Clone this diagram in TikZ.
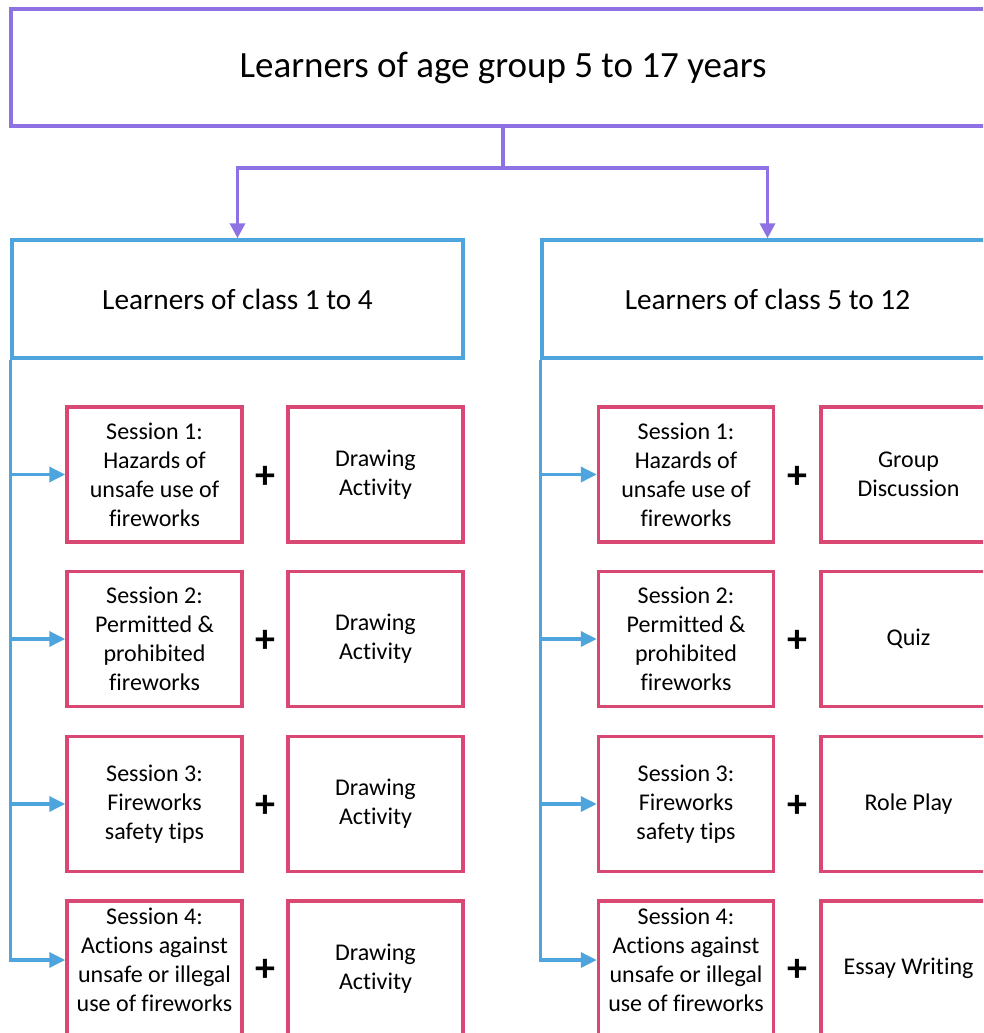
\documentclass[tikz,border=0pt]{standalone}
\usepackage{fontspec}
\setmainfont{Carlito}[Ligatures={NoCommon}]
\usetikzlibrary{arrows.meta}
\definecolor{purp}{HTML}{8E71E3}
\definecolor{lblue}{HTML}{4EA5DE}
\definecolor{pinkc}{HTML}{D84873}
\begin{document}
\begin{tikzpicture}[x=1pt,y=-1pt,
  topbox/.style={draw=purp, line width=3.5pt, minimum width=984pt, minimum height=117pt, inner sep=0pt, font=\fontsize{37}{44}\selectfont},
  classbox/.style={draw=lblue, line width=3.5pt, minimum width=451pt, minimum height=118pt, inner sep=0pt, font=\fontsize{29.3}{35}\selectfont},
  sbox/.style={draw=pinkc, line width=3.5pt, minimum width=175pt, minimum height=135pt, inner sep=0pt, align=center, font=\fontsize{24}{29}\selectfont},
  txt/.style={align=center, inner sep=0pt, font=\fontsize{24}{29}\selectfont},
  plussign/.style={inner sep=0pt, font=\fontsize{40}{40}\selectfont\bfseries},
  parrow/.style={draw=purp, line width=3.5pt, -{Triangle[length=15pt,width=15pt]}},
  pline/.style={draw=purp, line width=3.5pt},
  barrow/.style={draw=lblue, line width=3.5pt, -{Triangle[length=16pt,width=15pt]}}]
\useasboundingbox (0,0) rectangle (983,1033);
\clip (0,0) rectangle (983,1033);
\fill[white] (0,0) rectangle (983,1033);

% top
\node[topbox] (top) at (503,67.5) {Learners of age group 5 to 17 years};
\node[classbox] (c1) at (237.5,299) {Learners of class 1 to 4};
\node[classbox] (c2) at (767.5,299) {Learners of class 5 to 12};
\coordinate (j) at (503,168);
\draw[pline] (top.south) -- (j);
\draw[parrow] (j) -| (c1.north);
\draw[parrow] (j) -| (c2.north);

% left column
\node[sbox] (l1) at (154.5,474.5) {Session 1:\\Hazards of\\unsafe use of\\fireworks};
\node[sbox] (l2) at (154.5,639) {Session 2:\\Permitted \&\\prohibited\\fireworks};
\node[sbox] (l3) at (154.5,804) {Session 3:\\Fireworks\\safety tips};
\node[sbox] (l4) at (154.5,968.5) {};
\node[txt] (t4) at (154.5,960) {Session 4:\\Actions against\\unsafe or illegal\\use of fireworks};

\node[sbox] (a1) at (375.5,474.5) {Drawing\\Activity};
\node[sbox] (a2) at (375.5,639) {Drawing\\Activity};
\node[sbox] (a3) at (375.5,804) {Drawing\\Activity};
\node[sbox] (a4) at (375.5,968.5) {Drawing\\Activity};

\node[plussign] (p1) at (265,477) {+};
\node[plussign] (p2) at (265,641) {+};
\node[plussign] (p3) at (265,806) {+};
\node[plussign] (p4) at (265,970) {+};

\draw[barrow] (c1.south west) |- (l1.west);
\draw[barrow] (c1.south west) |- (l2.west);
\draw[barrow] (c1.south west) |- (l3.west);
\draw[barrow] (c1.south west) |- (l4.west |- t4);

% right column
\node[sbox] (r1) at (686,474.5) {Session 1:\\Hazards of\\unsafe use of\\fireworks};
\node[sbox] (r2) at (686,639) {Session 2:\\Permitted \&\\prohibited\\fireworks};
\node[sbox] (r3) at (686,804) {Session 3:\\Fireworks\\safety tips};
\node[sbox] (r4) at (686,968.5) {};
\node[txt] (u4) at (686,960) {Session 4:\\Actions against\\unsafe or illegal\\use of fireworks};

\node[sbox] (b1) at (908.5,474.5) {Group\\Discussion};
\node[sbox] (b2) at (908.5,639) {Quiz};
\node[sbox] (b3) at (908.5,804) {Role Play};
\node[sbox] (b4) at (908.5,968.5) {Essay Writing};

\node[plussign] (q1) at (797,477) {+};
\node[plussign] (q2) at (797,641) {+};
\node[plussign] (q3) at (797,806) {+};
\node[plussign] (q4) at (797,970) {+};

\draw[barrow] (c2.south west) |- (r1.west);
\draw[barrow] (c2.south west) |- (r2.west);
\draw[barrow] (c2.south west) |- (r3.west);
\draw[barrow] (c2.south west) |- (r4.west |- u4);
\end{tikzpicture}
\end{document}
